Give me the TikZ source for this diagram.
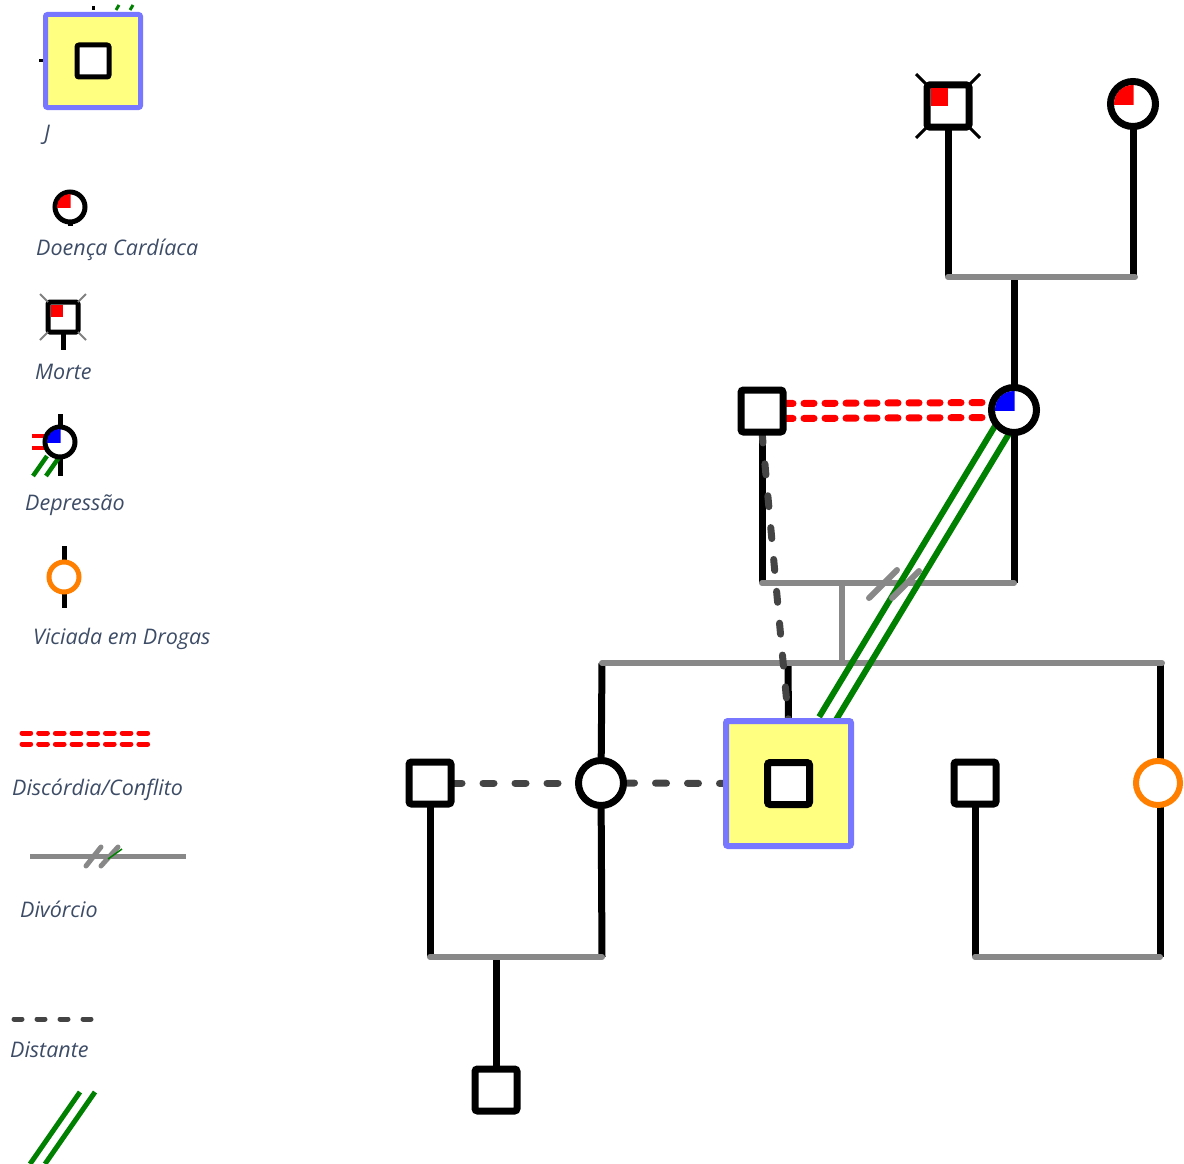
\documentclass[tikz,border=0pt]{standalone}
\usepackage{fontspec}
\setmainfont{Open Sans}
\usetikzlibrary{calc}
\definecolor{gline}{RGB}{136,136,136}
\definecolor{dist}{RGB}{68,68,68}
\definecolor{hgreen}{RGB}{0,128,0}
\definecolor{horange}{RGB}{255,128,0}
\definecolor{pbyellow}{RGB}{255,255,128}
\definecolor{pbblue}{RGB}{119,119,255}
\definecolor{lbltext}{RGB}{61,76,102}
\pgfdeclarelayer{bg}
\pgfsetlayers{bg,main}
\begin{document}
\begin{tikzpicture}[x=1pt,y=-1pt,
  male/.style={rectangle,draw=black,line width=7pt,rounded corners=2.5pt,minimum size=42pt,inner sep=0pt,outer sep=0pt,fill=white},
  female/.style={circle,draw=black,line width=7pt,minimum size=45pt,inner sep=0pt,outer sep=0pt,fill=white},
  lmale/.style={rectangle,draw=black,line width=5pt,rounded corners=2pt,minimum size=30pt,inner sep=0pt,outer sep=0pt,fill=white},
  lfemale/.style={circle,draw=black,line width=5pt,minimum size=30pt,inner sep=0pt,outer sep=0pt,fill=white},
  pbox/.style={rectangle,draw=pbblue,fill=pbyellow,rounded corners=2pt,inner sep=0pt,outer sep=0pt},
  kin/.style={draw=black,line width=7pt},
  lkin/.style={draw=black,line width=5pt},
  rel/.style={draw=gline,line width=6pt,line cap=round},
  conflict/.style={draw=red,line width=7pt,line cap=round,dash pattern=on 10pt off 11pt},
  distant/.style={draw=dist,line width=7pt,line cap=round,dash pattern=on 11pt off 21pt},
  close/.style={draw=hgreen,line width=6pt},
  stub/.style={draw=black,line width=3pt},
  lbl/.style={font=\itshape\fontsize{21.5}{24}\selectfont,text=lbltext,anchor=west,inner sep=0pt}
]
\useasboundingbox (0,0) rectangle (1184,1164);

% ---------- people ----------
\node[male] (gf) at (948,106) {};
\node[female] (gm) at (1133,104) {};
\node[male] (father) at (762,411) {};
\node[female] (mother) at (1014,410) {};
\node[female] (spouse) at (601,783) {};
\node[male] (exh) at (430,783) {};
\node[pbox,line width=6pt,minimum size=125pt] (pb) at (788.5,783.5) {};
\node[male] (pbin) at (pb) {};
\node[male] (sib) at (975,783) {};
\node[female,draw=horange,line width=6pt,minimum size=44pt] (sis) at (1158,783) {};
\node[male] (child) at (496,1090) {};

% conditions
\fill[red] ($(gf)+(-17,-18)$) rectangle (gf);
\begin{scope}\clip ($(gm)+(-20,-20)$) rectangle ($(gm)+(0.5,0.5)$);
  \fill[red] (gm) circle[radius=19pt];\end{scope}
\begin{scope}\clip ($(mother)+(-20,-20)$) rectangle ($(mother)+(0.5,0.5)$);
  \fill[blue] (mother) circle[radius=19pt];\end{scope}
% deceased marks
\draw[stub] ($(gf)+(-21.5,-21.5)$) -- ($(gf)+(-32,-32)$);
\draw[stub] ($(gf)+(21.5,-21.5)$) -- ($(gf)+(32,-32)$);
\draw[stub] ($(gf)+(-21.5,21.5)$) -- ($(gf)+(-32,32)$);
\draw[stub] ($(gf)+(21.5,21.5)$) -- ($(gf)+(32,32)$);

% ---------- connectors ----------
\coordinate (gpl) at (948,277);
\coordinate (gpr) at (1135,277);
\coordinate (gpc) at (1014,277);
\coordinate (ppl) at (762,583);
\coordinate (ppr) at (1014,583);
\coordinate (ppc) at (842,583);
\coordinate (sibc) at (842,663);
\coordinate (sl) at (602,663);
\coordinate (sr) at (1162,663);
\coordinate (pbt) at (826,721);
\coordinate (el) at (430,957);
\coordinate (er) at (602,957);
\coordinate (ec) at (496,957);
\coordinate (rl) at (975,957);
\coordinate (rr) at (1160,957);
\coordinate (dv1a) at (869,598);
\coordinate (dv1b) at (897,570);
\coordinate (dv2a) at (892,598);
\coordinate (dv2b) at (919,571);

\begin{pgfonlayer}{bg}
  \draw[kin] (gf) -- (gpl);
  \draw[kin] (gm) -- (gm |- gpr);
  \draw[kin] (gpc) -- (mother);
  \draw[rel] (gpl) -- (gpr);
  % parents
  \draw[kin] (father) -- (ppl);
  \draw[kin] (mother) -- (ppr);
  \draw[rel] (ppl) -- (ppr);
  \draw[rel] (ppc) -- (sibc);
  \draw[kin] (sl) -- (spouse);
  \draw[kin] (788,663) -- (pb.north);
  \draw[kin] (1160,663) -- (1160,783);
  \draw[kin] (sis.south -| 1160,0) -- (rr);
  \draw[rel] (sl) -- (sr);
  % conflict
  \draw[conflict] ([yshift=7.5pt]father.east) -- ([yshift=7.5pt]mother.west);
  \draw[conflict] ([yshift=-7.5pt]father.east) -- ([yshift=-7.5pt]mother.west);
  % distant
  \draw[distant] (father.south) -- (pb.north);
  \draw[distant] (exh.east) -- (spouse.west);
  \draw[distant] (spouse.east) -- (pb.west);
  % close
  \draw[close] ($(mother)!8pt!90:(pbt)$) -- ($(pbt)!8pt!-90:(mother)$);
  \draw[close] ($(mother)!8pt!-90:(pbt)$) -- ($(pbt)!8pt!90:(mother)$);
  % divorce
  \draw[rel] (dv1a) -- (dv1b);
  \draw[rel] (dv2a) -- (dv2b);
  % ex marriage
  \draw[kin] (exh) -- (el);
  \draw[kin] (spouse) -- (er);
  \draw[kin] (ec) -- (child);
  \draw[rel] (el) -- (er);
  % sibling marriage
  \draw[kin] (sib) -- (rl);
  \draw[rel] (rl) -- (rr);
\end{pgfonlayer}

% ---------- legend ----------
\node[pbox,line width=5pt,minimum width=95pt,minimum height=93pt] (lgJ) at (93,61) {};
\node[lmale,minimum size=32pt] (lgJin) at (lgJ) {};
\draw[black,line width=3pt] (93,6) -- (93,10);
\draw[hgreen,line width=3pt] (116,10) -- (119,5);
\draw[hgreen,line width=3pt] (130,10) -- (133,5);
\draw[black,line width=3pt] (39,61) -- (43,61);
\node[lbl] (tJ) at (44,135) {J};

\node[lfemale] (lgH) at (70,207) {};
\draw[lkin] (lgH.south) -- ++(0,4);
\begin{scope}\clip ($(lgH)+(-14,-14)$) rectangle ($(lgH)+(0.5,0.5)$);
  \fill[red] (lgH) circle[radius=13pt];\end{scope}
\node[lbl] (tH) at (36,250) {Doença Cardíaca};

\node[lmale] (lgM) at (63,317) {};
\draw[lkin] (lgM.south) -- (63,350);
\fill[red] ($(lgM)+(-12.5,-12.5)$) rectangle (lgM);
\draw[gray,line width=2pt] ($(lgM)+(-15,-15)$) -- ($(lgM)+(-23,-23)$);
\draw[gray,line width=2pt] ($(lgM)+(15,-15)$) -- ($(lgM)+(23,-23)$);
\draw[gray,line width=2pt] ($(lgM)+(-15,15)$) -- ($(lgM)+(-23,23)$);
\draw[gray,line width=2pt] ($(lgM)+(15,15)$) -- ($(lgM)+(23,23)$);
\node[lbl] (tM) at (35,372) {Morte};

\begin{pgfonlayer}{bg}
  \draw[lkin] (60,414) -- (60,476);
  \draw[red,line width=4.5pt] (32,436) -- (46,436);
  \draw[red,line width=4.5pt] (32,448) -- (46,448);
  \draw[hgreen,line width=4.5pt] (33,476) -- (47,456);
  \draw[hgreen,line width=4.5pt] (46,476) -- (60,456);
\end{pgfonlayer}
\node[lfemale] (lgD) at (60,442) {};
\begin{scope}\clip ($(lgD)+(-14,-14)$) rectangle ($(lgD)+(0.5,0.5)$);
  \fill[blue] (lgD) circle[radius=13pt];\end{scope}
\node[lbl] (tD) at (25,505) {Depressão};

\begin{pgfonlayer}{bg}
  \draw[lkin] (64,546) -- (64,608);
\end{pgfonlayer}
\node[lfemale,draw=horange] (lgV) at (64,577) {};
\node[lbl] (tV) at (33,639) {Viciada em Drogas};

\coordinate (lc1a) at (22,733); \coordinate (lc1b) at (153,733);
\coordinate (lc2a) at (22,744); \coordinate (lc2b) at (153,744);
\draw[red,line width=5pt,line cap=round,dash pattern=on 8.7pt off 8pt] (lc1a) -- (lc1b);
\draw[red,line width=5pt,line cap=round,dash pattern=on 8.7pt off 8pt] (lc2a) -- (lc2b);
\node[lbl] (tC) at (12,790) {Discórdia/Conflito};

\coordinate (ldA) at (30,856); \coordinate (ldB) at (186,856);
\draw[gline,line width=5pt] (ldA) -- (ldB);
\draw[gline,line width=5pt,line cap=round] (86,866) -- (101,847);
\draw[gline,line width=5pt,line cap=round] (101,866) -- (118,847);
\draw[hgreen,line width=1.5pt] (108,859) -- (122,849);
\node[lbl] (tDv) at (20,909) {Divórcio};

\coordinate (ldsA) at (14,1019); \coordinate (ldsB) at (100,1019);
\draw[dist,line width=5pt,line cap=round,dash pattern=on 8pt off 15pt] (ldsA) -- (ldsB);
\node[lbl] (tDs) at (10,1050) {Distante};

\coordinate (lg1a) at (30,1164); \coordinate (lg1b) at (80,1092);
\coordinate (lg2a) at (45,1164); \coordinate (lg2b) at (95,1092);
\draw[hgreen,line width=5pt] (lg1a) -- (lg1b);
\draw[hgreen,line width=5pt] (lg2a) -- (lg2b);
\end{tikzpicture}
\end{document}
